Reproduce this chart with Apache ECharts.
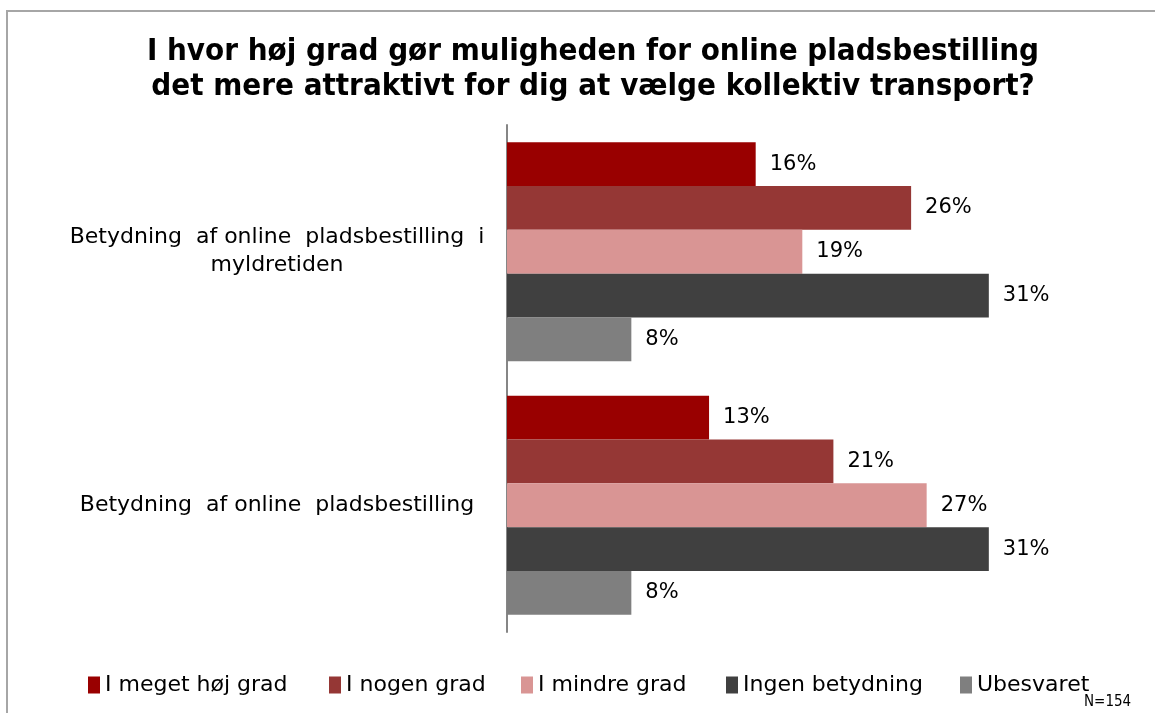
<!DOCTYPE html>
<html>
<head>
<meta charset="utf-8">
<script src="https://cdn.jsdelivr.net/npm/echarts@6/dist/echarts.min.js"></script>
<style>
html,body{margin:0;padding:0;background:#fff;}
#chart{width:1155px;height:713px;}
</style>
</head>
<body>
<div id="chart"></div>
<script>
const titleText = 'I hvor høj grad gør muligheden for online pladsbestilling\ndet mere attraktivt for dig at vælge kollektiv transport?';
const categories = ['Betydning  af online  pladsbestilling  i\nmyldretiden', 'Betydning  af online  pladsbestilling'];
const seriesNames = ['I meget høj grad', 'I nogen grad', 'I mindre grad', 'Ingen betydning', 'Ubesvaret'];
const seriesColors = ['#990000', '#953735', '#D99594', '#404040', '#7F7F7F'];
const valMegetHoj = [16, 13];
const valNogen = [26, 21];
const valMindre = [19, 27];
const valIngen = [31, 31];
const valUbesvaret = [8, 8];
const seriesValues = [valMegetHoj, valNogen, valMindre, valIngen, valUbesvaret];
const noteText = 'N=154';

const legendLefts = [88, 329, 521, 726, 960];
const mainFont = '"DejaVu Sans", Verdana, sans-serif';
const condFont = '"DejaVu Sans Condensed", "DejaVu Sans", sans-serif';
const chart = echarts.init(document.getElementById('chart'));
chart.setOption({
  animation: false,
  backgroundColor: '#ffffff',
  title: {
    text: titleText,
    left: 588,
    textAlign: 'center',
    top: 29,
    textStyle: { fontFamily: condFont, fontWeight: 'bold', fontSize: 31, lineHeight: 35, color: '#000' }
  },
  graphic: [
    { type: 'rect', shape: { x: 7, y: 11, width: 1200, height: 800 }, style: { fill: 'none', stroke: '#a6a6a6', lineWidth: 2 }, silent: true },
    { type: 'text', left: 1084, top: 695, style: { text: noteText, font: '15px ' + condFont, fill: '#000' } }
  ],
  legend: seriesNames.map((name, i) => ({
    data: [name],
    left: legendLefts[i],
    top: 674,
    padding: 0,
    itemWidth: 12,
    itemHeight: 17,
    icon: 'rect',
    textStyle: { fontFamily: mainFont, fontSize: 22, color: '#000' }
  })),
  grid: { left: 507, top: 125, width: 544, height: 507, containLabel: false },
  xAxis: {
    type: 'value', min: 0, max: 35,
    show: false
  },
  yAxis: {
    type: 'category',
    data: categories,
    inverse: true,
    axisLine: { show: true, lineStyle: { color: '#868686', width: 2 } },
    axisTick: { show: false },
    axisLabel: { align: 'center', margin: 230, fontFamily: mainFont, fontSize: 22, lineHeight: 28, color: '#000' }
  },
  series: seriesNames.map((name, i) => ({
    name: name,
    type: 'bar',
    data: seriesValues[i],
    barGap: '0%',
    barCategoryGap: '13.6%',
    itemStyle: { color: seriesColors[i] },
    label: { show: true, position: 'right', distance: 14, formatter: '{c}%', fontFamily: mainFont, fontSize: 21, color: '#000' }
  }))
});
</script>
</body>
</html>
